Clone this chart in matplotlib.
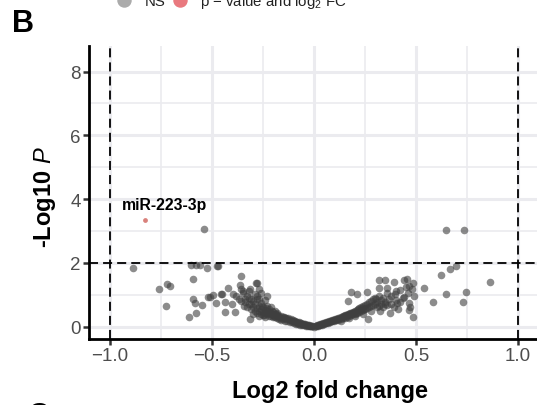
import matplotlib
matplotlib.use("Agg")
from matplotlib import pyplot as plt
from matplotlib.lines import Line2D

plt.rcParams["font.family"] = ["Liberation Sans", "DejaVu Sans"]
plt.rcParams["mathtext.fontset"] = "custom"
plt.rcParams["mathtext.rm"] = "Liberation Sans"
plt.rcParams["mathtext.it"] = "Liberation Sans:italic"

# non-significant miRNAs (log2 fold change, -log10 p)
ns_x = [
    # outer scatter, left
    -0.888, -0.603, -0.58, -0.558, -0.526, -0.47, -0.474, -0.538, -0.592, -0.758, -0.72, -0.705,
    -0.727, -0.615, -0.577, -0.592, -0.585, -0.549, -0.518, -0.51, -0.494, -0.479, -0.457,
    -0.45, -0.437, -0.436, -0.421, -0.395, -0.385, -0.357, -0.362, -0.356, -0.349, -0.37,
    -0.339, -0.344, -0.313, -0.319, -0.309, -0.313, -0.28, -0.268, -0.28, -0.283,
    -0.40, -0.38, -0.36, -0.35, -0.33, -0.32, -0.31, -0.29, -0.27, -0.26, -0.24, -0.23,
    # dense left arm
    -0.34, -0.33, -0.32, -0.31, -0.30, -0.30, -0.29, -0.29, -0.28, -0.28, -0.27, -0.27,
    -0.26, -0.26, -0.25, -0.25, -0.25, -0.24, -0.24, -0.23, -0.23, -0.22, -0.22, -0.22,
    -0.21, -0.21, -0.20, -0.20, -0.20, -0.19, -0.19, -0.18, -0.18, -0.18, -0.17, -0.17,
    -0.16, -0.16, -0.16, -0.15, -0.15, -0.14, -0.14, -0.13, -0.13, -0.12, -0.12, -0.11,
    -0.11, -0.10, -0.10, -0.09, -0.09, -0.08, -0.08, -0.07, -0.07, -0.06, -0.06, -0.05,
    -0.05, -0.04, -0.04, -0.03, -0.03, -0.02, -0.02, -0.01, -0.01, 0.00,
    -0.30, -0.27, -0.24, -0.21, -0.19, -0.23, -0.28, -0.26,
    -0.145, -0.135, -0.125, -0.115, -0.105, -0.095, -0.085, -0.075, -0.065, -0.055, -0.045,
    -0.035, -0.025, -0.015, -0.175, -0.185, -0.195, -0.205, -0.215, -0.235, -0.245, -0.255,
    # dense right arm
    0.01, 0.01, 0.02, 0.02, 0.03, 0.03, 0.04, 0.04, 0.05, 0.05, 0.06, 0.06, 0.07, 0.07,
    0.08, 0.08, 0.09, 0.09, 0.10, 0.10, 0.11, 0.11, 0.12, 0.12, 0.13, 0.13, 0.14, 0.14,
    0.15, 0.15, 0.16, 0.16, 0.17, 0.17, 0.18, 0.18, 0.19, 0.19, 0.20, 0.20, 0.21, 0.21,
    0.22, 0.22, 0.23, 0.23, 0.24, 0.24, 0.25, 0.25, 0.26, 0.26, 0.27, 0.27, 0.28, 0.28,
    0.29, 0.29, 0.30, 0.30, 0.31, 0.31, 0.32, 0.32, 0.33, 0.33, 0.34, 0.34, 0.35, 0.36,
    0.36, 0.37, 0.38, 0.38, 0.40, 0.40, 0.42, 0.42, 0.44, 0.45, 0.46, 0.47, 0.48,
    0.20, 0.24, 0.28, 0.13, 0.17, 0.265,
    0.015, 0.025, 0.035, 0.045, 0.055, 0.065, 0.075, 0.085, 0.095, 0.105, 0.115, 0.125,
    0.135, 0.145, 0.155, 0.165, 0.175, 0.185, 0.195, 0.205, 0.215, 0.225, 0.235, 0.245,
    # outer scatter, right
    0.649, 0.735, 0.696, 0.668, 0.625, 0.861, 0.539, 0.649, 0.743, 0.584, 0.730, 0.456,
    0.441, 0.392, 0.349, 0.319, 0.319, 0.36, 0.466, 0.484, 0.489, 0.467, 0.466, 0.484,
    0.18, 0.166, 0.213, 0.262, 0.306, 0.397, 0.405, 0.437, 0.413, 0.372, 0.323, 0.347, 0.39,
]
ns_y = [
    1.84, 1.93, 1.93, 1.93, 1.85, 1.89, 1.90, 3.07, 1.48, 1.17, 1.32, 1.27,
    0.64, 0.31, 0.42, 0.86, 0.75, 0.68, 0.94, 0.94, 0.98, 0.73, 1.03,
    1.03, 0.77, 0.47, 1.20, 1.01, 0.47, 1.59, 1.29, 1.17, 1.10, 0.86,
    0.86, 0.63, 1.17, 0.91, 0.70, 0.23, 1.38, 1.17, 0.95, 1.38,
    0.72, 0.95, 0.80, 1.05, 0.95, 1.12, 0.88, 1.02, 0.88, 1.05, 0.82, 0.95,
    0.78, 0.62, 0.70, 0.55, 0.80, 0.62, 0.48, 0.70, 0.58, 0.42, 0.66, 0.50,
    0.55, 0.40, 0.60, 0.47, 0.36, 0.52, 0.42, 0.48, 0.38, 0.44, 0.34, 0.55,
    0.40, 0.32, 0.45, 0.36, 0.29, 0.38, 0.31, 0.34, 0.27, 0.42, 0.30, 0.24,
    0.33, 0.27, 0.21, 0.29, 0.23, 0.26, 0.19, 0.23, 0.17, 0.21, 0.15, 0.18,
    0.13, 0.16, 0.11, 0.14, 0.09, 0.12, 0.08, 0.10, 0.06, 0.08, 0.05, 0.07,
    0.04, 0.05, 0.03, 0.04, 0.02, 0.03, 0.01, 0.02, 0.01, 0.00,
    0.38, 0.33, 0.30, 0.62, 0.50, 0.66, 0.88, 0.75,
    0.31, 0.28, 0.26, 0.23, 0.20, 0.18, 0.15, 0.13, 0.11, 0.09, 0.07,
    0.05, 0.04, 0.02, 0.36, 0.40, 0.34, 0.50, 0.47, 0.57, 0.36, 0.64,
    0.01, 0.03, 0.02, 0.05, 0.04, 0.07, 0.06, 0.09, 0.08, 0.11, 0.10, 0.13, 0.12, 0.15,
    0.14, 0.18, 0.16, 0.20, 0.18, 0.22, 0.20, 0.25, 0.22, 0.27, 0.24, 0.30, 0.26, 0.32,
    0.28, 0.35, 0.30, 0.37, 0.33, 0.40, 0.35, 0.43, 0.38, 0.46, 0.40, 0.50, 0.43, 0.53,
    0.46, 0.57, 0.48, 0.60, 0.52, 0.63, 0.55, 0.68, 0.58, 0.72, 0.61, 0.76, 0.64, 0.80,
    0.67, 0.85, 0.70, 0.90, 0.60, 0.78, 0.66, 0.95, 0.72, 0.84, 0.62, 0.90, 0.78, 0.68,
    1.05, 0.85, 0.72, 0.95, 0.82, 1.10, 0.78, 1.15, 0.92, 1.25, 1.05, 0.62, 1.18,
    0.33, 0.40, 0.50, 0.18, 0.26, 0.23,
    0.04, 0.06, 0.08, 0.10, 0.12, 0.14, 0.16, 0.18, 0.21, 0.23, 0.25, 0.28,
    0.30, 0.33, 0.35, 0.38, 0.41, 0.44, 0.47, 0.42, 0.54, 0.51, 0.58, 0.55,
    3.02, 3.02, 1.90, 1.82, 1.63, 1.40, 1.20, 1.02, 1.07, 0.76, 0.76, 1.50,
    1.46, 1.40, 1.46, 1.45, 1.20, 1.20, 1.27, 1.36, 0.96, 0.75, 0.51, 0.30,
    1.07, 0.80, 1.01, 1.07, 0.86, 1.01, 0.75, 0.91, 0.54, 0.44, 0.49, 0.70, 0.60,
]

# significant by p-value and log2 FC
sig_x = [-0.83]
sig_y = [3.35]
sig_label = ["miR-223-3p"]

x_ticks = [-1.0, -0.5, 0.0, 0.5, 1.0]
x_ticklabels = ["\u22121.0", "\u22120.5", "0.0", "0.5", "1.0"]
y_ticks = [0, 2, 4, 6, 8]
fc_cut = 1.0
p_cut = 2.0


def main():
    W, H = 537, 406
    fig = plt.figure(figsize=(W / 100, H / 100), dpi=100)
    ax = fig.add_axes([89 / W, 66 / H, (571 - 89) / W, (340 - 47) / H])

    ax.set_xlim(-1.103, 1.26)
    ax.set_ylim(-0.39, 8.8)

    ax.set_xticks(x_ticks)
    ax.set_xticklabels(x_ticklabels)
    ax.set_yticks(y_ticks)
    ax.set_xticks([-0.75, -0.25, 0.25, 0.75], minor=True)
    ax.set_yticks([1, 3, 5, 7], minor=True)

    ax.grid(which="major", color="#EBEBEF", lw=2.2, zorder=0)
    ax.grid(which="minor", color="#EBEBEF", lw=1.2, zorder=0)
    ax.set_axisbelow(True)

    ax.tick_params(which="major", direction="out", length=4, width=1.8, color="#333333",
                   labelcolor="#4D4D4D", labelsize=13.5, pad=2)
    ax.tick_params(which="minor", length=0)

    for side in ["top", "right"]:
        ax.spines[side].set_visible(False)
    for side in ["left", "bottom"]:
        ax.spines[side].set_linewidth(2)
        ax.spines[side].set_color("black")

    ax.scatter(ns_x, ns_y, s=30, color="#3F3F3F", alpha=0.6, linewidths=0, zorder=3)
    ax.scatter(sig_x, sig_y, s=12, color="#D9817C", linewidths=0, zorder=3)
    for x, y, t in zip(sig_x, sig_y, sig_label):
        ax.text(x + 0.096, y + 0.33, t, fontsize=11.3, fontweight="bold",
                ha="center", va="baseline", zorder=4)

    dash = (0, (5, 2.8))
    ax.axvline(-fc_cut, color="black", lw=1.3, ls=dash, zorder=4)
    ax.axvline(fc_cut, color="black", lw=1.3, ls=dash, zorder=4)
    ax.axhline(p_cut, color="black", lw=1.3, ls=dash, zorder=4)

    # axis titles
    fig.text(330 / W, 1 - 392 / H, "Log2 fold change", fontsize=17, fontweight="bold",
             ha="center", va="center")
    fig.text(45 / W, 1 - 197 / H, "-Log10 $\\mathit{P}$", fontsize=17, fontweight="bold",
             rotation=90, ha="center", va="center")

    # legend, cut off at the top
    fig.add_artist(Line2D([124 / W], [1 - 1 / H], marker="o", ms=9.4, color="#ABABAB",
                          transform=fig.transFigure))
    fig.add_artist(Line2D([180 / W], [1 - 1 / H], marker="o", ms=9.4, color="#E9797F",
                          transform=fig.transFigure))
    fig.text(145 / W, 1 - 6 / H, "NS", fontsize=10.8, color="#222222", va="baseline")
    fig.text(200 / W, 1 - 6 / H, "p \u2212 value and log$_2$ FC", fontsize=10.8,
             color="#222222", va="baseline")

    # panel letters
    fig.text(12 / W, 1 - 32 / H, "B", fontsize=22, fontweight="bold", va="baseline")
    fig.text(28 / W, 1 - 425 / H, "C", fontsize=22, fontweight="bold", va="baseline")

    fig.savefig("out.png", dpi=100)


if __name__ == "__main__":
    main()
